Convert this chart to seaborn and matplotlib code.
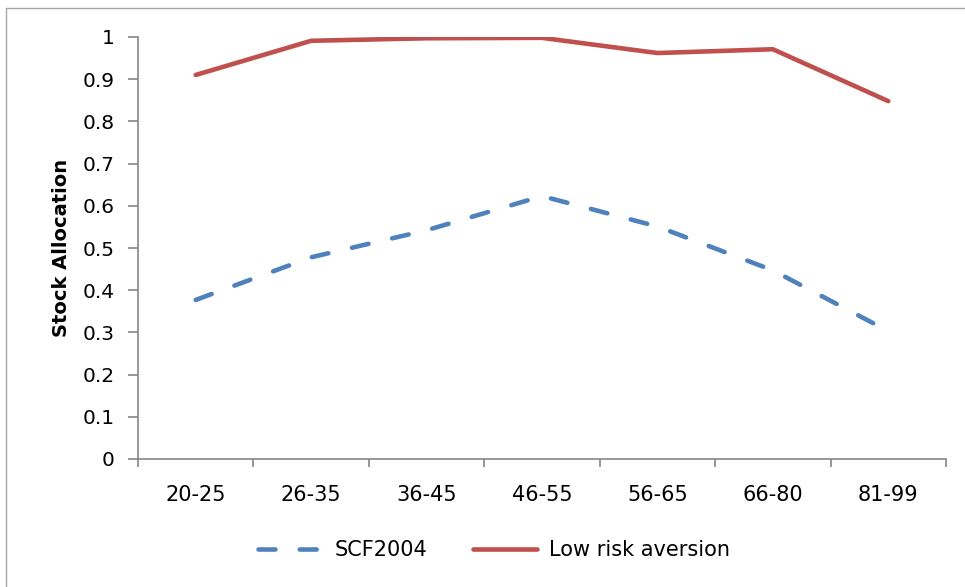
import pandas as pd
import matplotlib.pyplot as plt
import seaborn as sns
from matplotlib.lines import Line2D

# Données
age_groups = ["20-25", "26-35", "36-45", "46-55", "56-65", "66-80", "81-99"]
scf2004 = [0.377, 0.478, 0.542, 0.623, 0.551, 0.447, 0.303]
low_risk = [0.910, 0.991, 0.997, 0.998, 0.962, 0.971, 0.848]
series_names = ["SCF2004", "Low risk aversion"]
colors = {"SCF2004": "#4F81BD", "Low risk aversion": "#C0504D"}
dash_pattern = (3.7, 5.3)

df = pd.DataFrame({
    "age": age_groups * 2,
    "alloc": scf2004 + low_risk,
    "series": [series_names[0]] * len(age_groups) + [series_names[1]] * len(age_groups),
})

sns.set_style("white")
plt.rcParams["font.family"] = ["DejaVu Sans"]
plt.rcParams["text.color"] = "black"

fig = plt.figure(figsize=(9.65, 5.87), dpi=100)
ax = fig.add_axes([138 / 965, 1 - 459 / 587, (946 - 138) / 965, (459 - 37) / 587])

sns.lineplot(
    data=df, x="age", y="alloc", hue="series", style="series",
    hue_order=series_names, style_order=series_names,
    palette=colors, dashes={"SCF2004": dash_pattern, "Low risk aversion": ""},
    linewidth=3.3, sort=False, legend=False, ax=ax,
)
for line in ax.get_lines():
    line.set_dash_capstyle("round")
    line.set_solid_capstyle("round")

ax.set_xlim(-0.5, len(age_groups) - 0.5)
ax.set_ylim(0, 1)
ax.set_yticks([i / 10 for i in range(11)])
ax.set_yticklabels(["0"] + [f"0.{i}" for i in range(1, 10)] + ["1"])
ax.set_xticks([i - 0.5 for i in range(len(age_groups) + 1)])
ax.set_xticklabels([])
ax.set_xticks(range(len(age_groups)), minor=True)
ax.set_xticklabels(age_groups, minor=True)
ax.tick_params(axis="x", which="major", bottom=True, direction="out", length=6, color="#868686", width=1.2)
ax.tick_params(axis="x", which="minor", bottom=False, length=0, pad=19, labelsize=15, labelcolor="black")
ax.tick_params(axis="y", left=True, direction="out", length=7, color="#868686", width=1.2,
               pad=10, labelsize=14.5, labelcolor="black")
ax.set_xlabel("")
ax.set_ylabel("Stock Allocation", fontsize=14, fontweight="bold", color="black", labelpad=8)

for side in ["top", "right"]:
    ax.spines[side].set_visible(False)
for side in ["left", "bottom"]:
    ax.spines[side].set_color("#868686")
    ax.spines[side].set_linewidth(1.2)

# Légende en bas
handles = [
    Line2D([], [], color=colors["SCF2004"], linewidth=3.3, linestyle=(0, dash_pattern), dash_capstyle="round"),
    Line2D([], [], color=colors["Low risk aversion"], linewidth=3.3, solid_capstyle="round"),
]
fig.legend(handles, series_names, loc="center", bbox_to_anchor=(0.512, 1 - 550 / 587),
           ncol=2, frameon=False, fontsize=15, handlelength=3.1, handletextpad=0.55,
           columnspacing=2.2)

# Cadre du graphique
fig.add_artist(plt.Line2D([6 / 965, 6 / 965], [0, 1 - 8 / 587], transform=fig.transFigure, color="#A6A6A6", linewidth=1))
fig.add_artist(plt.Line2D([6 / 965, 1], [1 - 8 / 587, 1 - 8 / 587], transform=fig.transFigure, color="#A6A6A6", linewidth=1))

fig.savefig("out.png", dpi=100)
plt.close()
